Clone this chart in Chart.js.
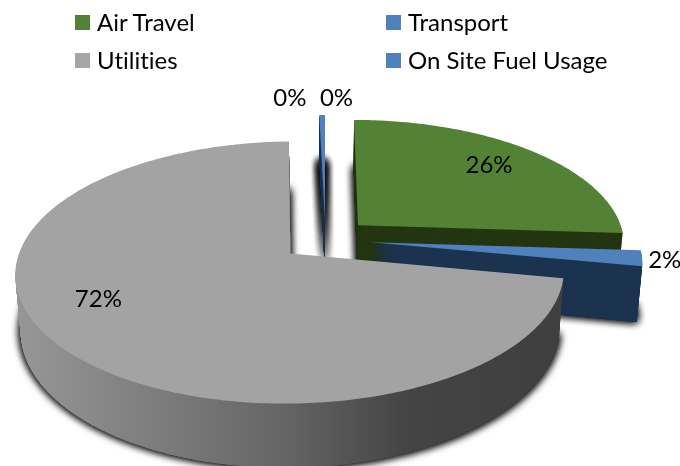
<!DOCTYPE html>
<html>
<head>
<meta charset="utf-8">
<title>Emissions by source</title>
<script src="https://cdn.jsdelivr.net/npm/chart.js@4/dist/chart.umd.js"></script>
<style>
    html, body { margin: 0; padding: 0; background: #fff; }
    #wrap { position: relative; width: 680px; height: 466px; overflow: hidden; }
    #legend div {
        position: absolute;
        font: 24px Lato, sans-serif;
        font-variant-ligatures: none;
        line-height: 30px;
        color: #000;
        white-space: nowrap;
    }
    #legend span {
        position: absolute;
        left: -22px;
        top: 8px;
        width: 15px;
        height: 15px;
    }
</style>
</head>
<body>
<div id="wrap">
    <canvas id="chart" width="680" height="466"></canvas>
    <div id="legend"></div>
</div>
<script>
// Data
const categories = ['Air Travel', 'Transport', 'Utilities', 'On Site Fuel Usage', ''];
const shares = [26, 2, 71.6, 0.4, 0];
const topColors = ['#548235', '#4f81bd', '#a3a3a3', '#4f81bd', '#4f81bd'];
const sideColors = ['#243511', '#1c3350', null, '#1c3350', '#1c3350'];

// How far out each percent label sits, then a small nudge in pixels
const labelRadius = [0.77, 1.1, 0.76, 1.12, 1.12];
const labelNudge = [[-4, -1], [-5, 0], [-20, -22], [-32, -6], [11, -6]];

// Tilted disc projection
const view = { ox: 325.5, oy: 239.6, a: 267, b: 124.3, k: 0.143, depth: 54, shrink: 0.017, explode: 0.17 };

function project(cu, cv, angle, r, z) {
    const u = cu + r * Math.sin(angle);
    const v = cv - r * Math.cos(angle);
    const s = 1 / (1 - view.k * v);
    return {
        x: view.ox + view.a * u * s * (1 - view.shrink * z),
        y: view.oy + (view.b * v + view.depth * z) * s
    };
}

// Chart.js angles start at 3 o'clock, the projection starts at 12
function sliceInfo(el) {
    const start = el.startAngle + Math.PI / 2;
    const end = el.endAngle + Math.PI / 2;
    const mid = (start + end) / 2;
    return {
        start, end, mid,
        cu: view.explode * Math.sin(mid),
        cv: -view.explode * Math.cos(mid)
    };
}

function sliceShape(ctx, info, z) {
    const steps = Math.max(2, Math.ceil((info.end - info.start) / 0.015));
    ctx.beginPath();
    const apex = project(info.cu, info.cv, 0, 0, z);
    ctx.moveTo(apex.x, apex.y);
    for (let i = 0; i <= steps; i++) {
        const p = project(info.cu, info.cv, info.start + (info.end - info.start) * i / steps, 1, z);
        ctx.lineTo(p.x, p.y);
    }
    ctx.closePath();
}

const pie3d = {
    id: 'pie3d',
    beforeDatasetsDraw(chart) {
        const ctx = chart.ctx;
        const arcs = chart.getDatasetMeta(0).data;

        const greyWall = ctx.createLinearGradient(14, 0, 560, 0);
        greyWall.addColorStop(0, '#979797');
        greyWall.addColorStop(0.5, '#646464');
        greyWall.addColorStop(0.72, '#444444');
        greyWall.addColorStop(1, '#3f3f3f');

        const order = arcs.map((el, i) => ({ i, info: sliceInfo(el) }))
            .filter(s => shares[s.i] > 0)
            .sort((p, q) => Math.cos(q.info.mid) - Math.cos(p.info.mid));

        order.forEach(s => {
            const wall = sideColors[s.i] || greyWall;
            // soft shadow, repeated so the strips behind the slices show up
            const passes = shares[s.i] < 1 ? 8 : 3;
            ctx.save();
            ctx.shadowColor = 'rgba(0, 0, 0, 0.8)';
            ctx.shadowBlur = 9;
            ctx.fillStyle = wall;
            sliceShape(ctx, s.info, 1);
            for (let n = 0; n < passes; n++) {
                ctx.fill();
            }
            ctx.restore();

            // side walls: stack the slice shape from the bottom up
            ctx.fillStyle = wall;
            for (let z = 1; z > 0; z -= 0.02) {
                sliceShape(ctx, s.info, z);
                ctx.fill();
            }
            ctx.fillStyle = topColors[s.i];
            sliceShape(ctx, s.info, 0);
            ctx.fill();
        });

        // Percent labels
        const total = shares.reduce((sum, v) => sum + v, 0);
        ctx.fillStyle = '#000';
        ctx.font = '24px Lato, sans-serif';
        ctx.textAlign = 'center';
        ctx.textBaseline = 'middle';
        arcs.forEach((el, i) => {
            const info = sliceInfo(el);
            const p = project(info.cu, info.cv, info.mid, labelRadius[i], 0);
            ctx.fillText(Math.round(shares[i] / total * 100) + '%', p.x + labelNudge[i][0], p.y + labelNudge[i][1]);
        });
        return false;
    }
};

new Chart(document.getElementById('chart'), {
    type: 'pie',
    data: {
        labels: categories,
        datasets: [{ data: shares, backgroundColor: topColors, borderWidth: 0 }]
    },
    options: {
        responsive: false,
        animation: false,
        plugins: { legend: { display: false }, tooltip: { enabled: false } }
    },
    plugins: [pie3d]
});

// Legend in two columns
const legend = document.getElementById('legend');
const legendSpots = [[97, 7], [408, 7], [97, 45], [408, 45]];
categories.filter(name => name).forEach((name, i) => {
    const item = document.createElement('div');
    item.style.left = legendSpots[i][0] + 'px';
    item.style.top = legendSpots[i][1] + 'px';
    item.textContent = name;
    const box = document.createElement('span');
    box.style.background = i === 2 ? '#a5a5a5' : topColors[i];
    item.appendChild(box);
    legend.appendChild(item);
});
</script>
</body>
</html>
